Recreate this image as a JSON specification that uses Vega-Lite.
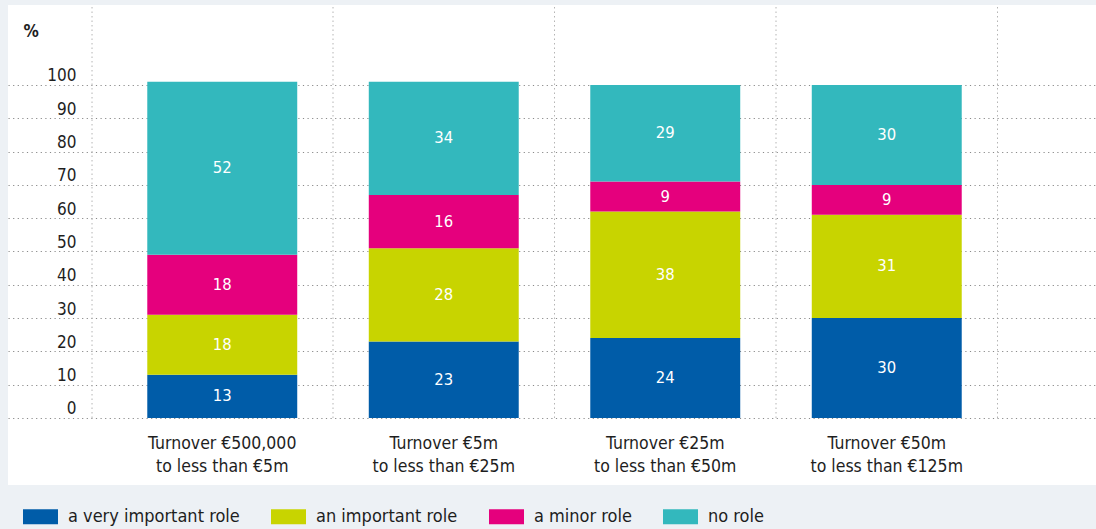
{
  "$schema": "https://vega.github.io/schema/vega-lite/v6.json",
  "width": 1088,
  "height": 480,
  "autosize": {"type": "none"},
  "padding": {"left": 8, "top": 5, "right": 0, "bottom": 44},
  "background": "#edf1f5",
  "view": {"fill": "#ffffff", "stroke": null},
  "config": {
    "font": "DejaVu Sans Condensed",
    "axis": {"labelFont": "DejaVu Sans Condensed", "titleFont": "DejaVu Sans Condensed"},
    "legend": {"labelFont": "DejaVu Sans Condensed"}
  },
  "data": {
    "values": [
      {"size": "Turnover €500,000 to less than €5m", "role": "a very important role", "value": 13},
      {"size": "Turnover €500,000 to less than €5m", "role": "an important role", "value": 18},
      {"size": "Turnover €500,000 to less than €5m", "role": "a minor role", "value": 18},
      {"size": "Turnover €500,000 to less than €5m", "role": "no role", "value": 52},
      {"size": "Turnover €5m to less than €25m", "role": "a very important role", "value": 23},
      {"size": "Turnover €5m to less than €25m", "role": "an important role", "value": 28},
      {"size": "Turnover €5m to less than €25m", "role": "a minor role", "value": 16},
      {"size": "Turnover €5m to less than €25m", "role": "no role", "value": 34},
      {"size": "Turnover €25m to less than €50m", "role": "a very important role", "value": 24},
      {"size": "Turnover €25m to less than €50m", "role": "an important role", "value": 38},
      {"size": "Turnover €25m to less than €50m", "role": "a minor role", "value": 9},
      {"size": "Turnover €25m to less than €50m", "role": "no role", "value": 29},
      {"size": "Turnover €50m to less than €125m", "role": "a very important role", "value": 30},
      {"size": "Turnover €50m to less than €125m", "role": "an important role", "value": 31},
      {"size": "Turnover €50m to less than €125m", "role": "a minor role", "value": 9},
      {"size": "Turnover €50m to less than €125m", "role": "no role", "value": 30}
    ]
  },
  "transform": [
    {"calculate": "indexof(['a very important role','an important role','a minor role','no role'], datum.role)", "as": "rank"},
    {"stack": "value", "groupby": ["size"], "sort": [{"field": "rank", "order": "ascending"}], "as": ["v0", "v1"]},
    {"calculate": "(datum.v0 + datum.v1) / 2", "as": "mid"}
  ],
  "layer": [
    {
      "mark": {"type": "rule", "strokeDash": [1.5, 3], "color": "#b4b4b4", "strokeWidth": 1},
      "transform": [{"filter": "datum.rank === 0"}],
      "encoding": {
        "x": {"field": "size", "type": "nominal", "sort": null, "bandPosition": 1},
        "y": {"datum": 0, "type": "quantitative"},
        "y2": {"datum": 124.02}
      }
    },
    {
      "mark": {"type": "rule", "strokeDash": [1.5, 3], "color": "#b4b4b4", "strokeWidth": 1},
      "transform": [{"filter": "datum.rank === 0 && indexof(datum.size, '500,000') >= 0"}],
      "encoding": {
        "x": {"field": "size", "type": "nominal", "sort": null, "bandPosition": -0.088},
        "y": {"datum": 0, "type": "quantitative"},
        "y2": {"datum": 124.02}
      }
    },
    {
      "mark": {"type": "bar", "width": {"band": 0.677}},
      "encoding": {
        "x": {
          "field": "size", "type": "nominal", "sort": null,
          "scale": {"paddingInner": 0, "paddingOuter": 0.456, "align": 0.5124},
          "axis": {
            "title": null, "ticks": false, "domain": false, "grid": false,
            "labelAngle": 0, "labelFontSize": 17.5, "labelColor": "#1e1e1e",
            "labelAlign": "center", "bandPosition": 0.5,
            "labelBaseline": "alphabetic", "labelPadding": -37, "labelLineHeight": 23,
            "labelLimit": 300,
            "labelExpr": "[slice(datum.label, 0, indexof(datum.label, ' to ')), slice(datum.label, indexof(datum.label, ' to ') + 1)]"
          }
        },
        "y": {
          "field": "v0", "type": "quantitative",
          "scale": {"domain": [-20.12, 124.02], "nice": false, "zero": false},
          "axis": {
            "values": [0, 10, 20, 30, 40, 50, 60, 70, 80, 90, 100],
            "grid": true, "gridDash": [1.2, 3.4], "gridColor": "#8a8a8a", "gridWidth": 1,
            "domain": false, "ticks": false, "tickSize": 0,
            "labelFontSize": 17, "labelColor": "#1e1e1e", "labelPadding": -68,
            "labelAlign": "right", "labelBaseline": "alphabetic", "labelOffset": -4,
            "title": "%", "titleAngle": 0, "titleX": 15, "titleY": 31,
            "titleAlign": "left", "titleBaseline": "alphabetic",
            "titleFontSize": 17, "titleFontWeight": "bold", "titleColor": "#1e1e1e"
          }
        },
        "y2": {"field": "v1"},
        "color": {
          "field": "role", "type": "nominal",
          "scale": {
            "domain": ["a very important role", "an important role", "a minor role", "no role"],
            "range": ["#005ca8", "#c8d400", "#e5007d", "#33b8bd"]
          },
          "legend": {
            "title": null, "orient": "none", "direction": "horizontal",
            "legendX": 15, "legendY": 494,
            "symbolType": "M-1,-0.43H1V0.43H-1Z", "symbolSize": 1225, "symbolStrokeWidth": 0,
            "labelFontSize": 18, "labelColor": "#1e1e1e", "labelOffset": 10,
            "columnPadding": 31, "labelLimit": 300
          }
        }
      }
    },
    {
      "mark": {"type": "text", "color": "#ffffff", "fontSize": 16.5, "baseline": "middle", "align": "center"},
      "encoding": {
        "x": {"field": "size", "type": "nominal", "sort": null},
        "y": {"field": "mid", "type": "quantitative"},
        "text": {"field": "value", "type": "quantitative"}
      }
    }
  ]
}
